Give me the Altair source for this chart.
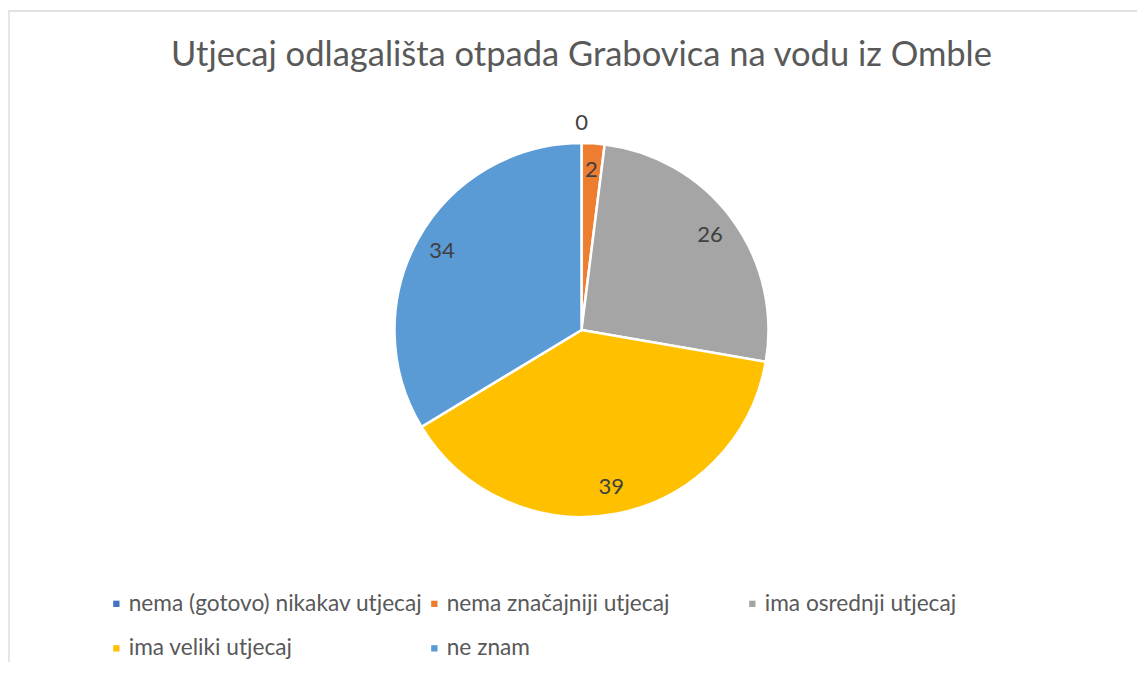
import altair as alt
import pandas as pd

categories = [
    "nema (gotovo) nikakav utjecaj",
    "nema značajniji utjecaj",
    "ima osrednji utjecaj",
    "ima veliki utjecaj",
    "ne znam",
]
values = [0, 2, 26, 39, 34]
colors = ["#4472C4", "#ED7D31", "#A5A5A5", "#FFC000", "#5B9BD5"]
title_text = "Utjecaj odlagališta otpada Grabovica na vodu iz Omble"

df = pd.DataFrame({
    "kategorija": categories,
    "vrijednost": values,
    "redoslijed": list(range(len(categories))),
})

FONT = "Lato"
theta = alt.Theta("vrijednost:Q", stack=True)
order = alt.Order("redoslijed:Q", sort="ascending")

base = alt.Chart(df)

pie = base.mark_arc(outerRadius=187, stroke="white", strokeWidth=2.5).encode(
    theta=theta,
    order=order,
    color=alt.Color(
        "kategorija:N",
        sort=categories,
        scale=alt.Scale(domain=categories, range=colors),
        legend=alt.Legend(
            title=None,
            orient="none",
            legendX=73,
            legendY=494,
            direction="horizontal",
            columns=3,
            gridAlign="all",
            labelFont=FONT,
            labelFontSize=22.7,
            labelColor="#595959",
            labelLimit=450,
            labelOffset=1,
            symbolType="square",
            symbolSize=40,
            symbolStrokeWidth=0,
            rowPadding=21,
            columnPadding=0,
            padding=0,
        ),
    ),
)

labels = base.transform_filter("datum.vrijednost > 0").mark_text(
    radius=160, font=FONT, fontSize=22, color="#404040"
).encode(theta=theta, order=order, text="vrijednost:Q")

zero_label = base.transform_filter("datum.vrijednost == 0").mark_text(
    radius=207, font=FONT, fontSize=22, color="#404040"
).encode(theta=theta, order=order, text="vrijednost:Q")

border = alt.Chart(alt.Data(values=[{}])).mark_rect(
    filled=False, stroke="#D9D9D9", strokeWidth=1.3
).encode(
    x=alt.value(-23), x2=alt.value(1200), y=alt.value(-87), y2=alt.value(700)
)

chart = alt.layer(border, pie, labels, zero_label).properties(
    width=1099,
    height=464,
    autosize=alt.AutoSizeParams(type="none"),
    padding={"left": 24, "top": 90, "right": 6, "bottom": 100},
    title=alt.Title(
        title_text,
        font=FONT,
        fontSize=34.5,
        fontWeight="normal",
        color="#595959",
        anchor="middle",
        frame="group",
        offset=-63,
    ),
).configure_view(stroke=None)

chart.save("out.html", embed_options={"renderer": "svg", "actions": False})
